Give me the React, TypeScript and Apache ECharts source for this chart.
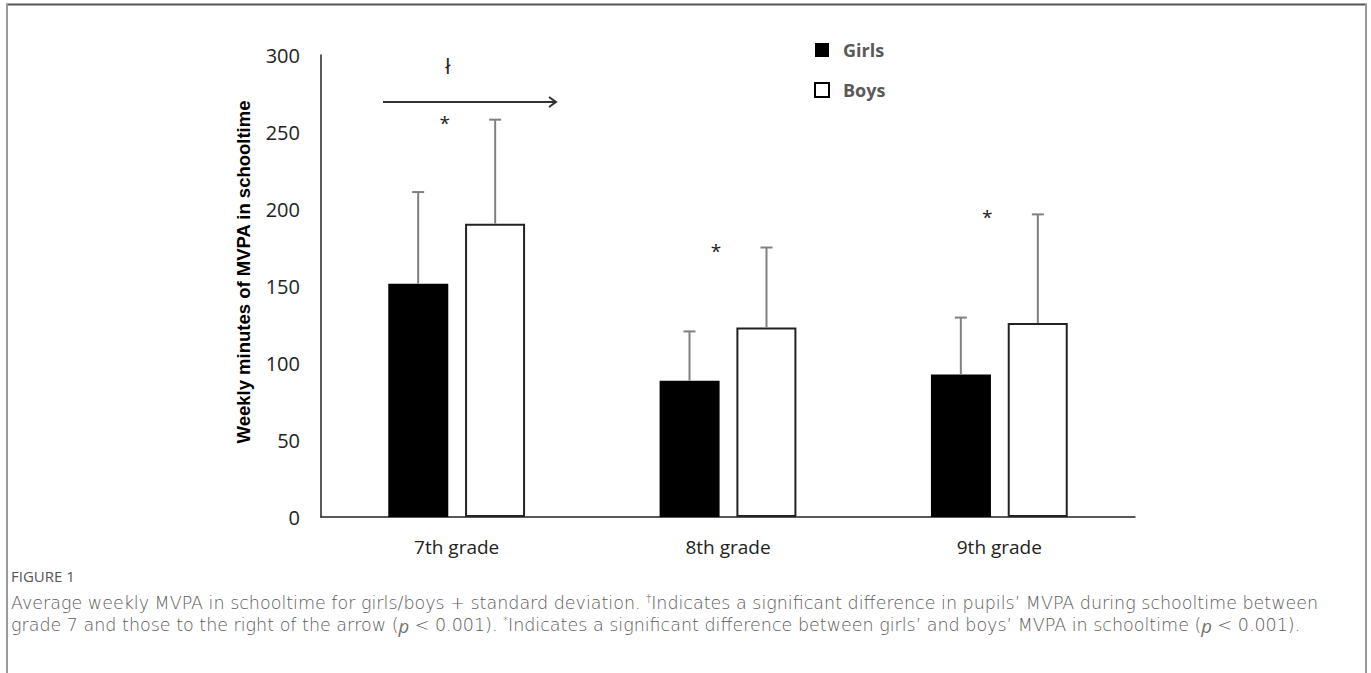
import React, { useEffect, useRef } from "react";
import * as echarts from "echarts";

const categories = ["7th grade", "8th grade", "9th grade"];
const girlsMean = [151.5, 88.5, 92.5];
const girlsSD = [59.5, 32, 37];
const boysMean = [190.5, 123, 126];
const boysSD = [67.5, 52, 70.5];
const yMin = 0;
const yMax = 300;
const yStep = 50;
const seriesNames = ["Girls", "Boys"];
const yTitle = "Weekly minutes of MVPA in schooltime";
const figureLabel = "FIGURE 1";

const FONT = "'Open Sans', 'Noto Sans', sans-serif";
const CAP_FONT = "'DejaVu Sans', 'Open Sans', sans-serif";
const BAR_W = 60;
const BAR_OFFSET = 38.5;

function errorSeries(name: string, means: number[], sds: number[], dx: number) {
  return {
    type: "custom",
    name: name + " SD",
    z: 5,
    silent: true,
    data: means.map((m, i) => [i, m, sds[i]]),
    renderItem: (params: any, api: any) => {
      const cat = api.value(0);
      const mean = api.value(1);
      const sd = api.value(2);
      const base = api.coord([cat, mean]);
      const top = api.coord([cat, mean + sd]);
      const x = base[0] + dx;
      const st = { stroke: "#808080", lineWidth: 2 };
      return {
        type: "group",
        children: [
          { type: "line", shape: { x1: x, y1: base[1], x2: x, y2: top[1] }, style: st },
          { type: "line", shape: { x1: x - 6, y1: top[1], x2: x + 6, y2: top[1] }, style: st },
        ],
      };
    },
  };
}

function starSeries() {
  return {
    type: "custom",
    name: "stars",
    z: 6,
    silent: true,
    data: boysMean.map((m, i) => [i, m + boysSD[i]]),
    renderItem: (params: any, api: any) => {
      const p = api.coord([api.value(0), api.value(1)]);
      return {
        type: "text",
        x: p[0] - 12,
        y: p[1] + 3,
        style: {
          text: "*",
          fontSize: 19,
          fontFamily: FONT,
          fill: "#222",
          align: "center",
          verticalAlign: "middle",
        },
      };
    },
  };
}

export default function App() {
  const ref = useRef<HTMLDivElement>(null);
  useEffect(() => {
    if (!ref.current) return;
    const chart = echarts.init(ref.current, null, { renderer: "svg" });
    const CAP = 17.5;
    const CAP_COLOR = "#5a5a5a";
    const captionStyle = {
      fontSize: CAP,
      lineHeight: 20,
      fontFamily: CAP_FONT,
      fontWeight: 300 as any,
      fill: CAP_COLOR,
    };
    const rich = {
      sup: { fontSize: 10, lineHeight: 20, fontFamily: CAP_FONT, fontWeight: 300, fill: CAP_COLOR, padding: [0, 0, 9, 0] },
      i: { fontSize: CAP + 1, lineHeight: 20, fontFamily: FONT, fontWeight: "normal", fontStyle: "italic", fill: "#707070" },
    };
    chart.setOption({
      animation: false,
      backgroundColor: "#fff",
      grid: { left: 321, right: 236, top: 55, bottom: 156, containLabel: false },
      legend: {
        left: 814,
        top: 41,
        padding: 0,
        orient: "vertical",
        itemWidth: 14,
        itemHeight: 14,
        itemGap: 22,
        icon: "rect",
        data: [
          { name: seriesNames[0], itemStyle: { color: "#000", borderColor: "#000", borderWidth: 0 } },
          { name: seriesNames[1], itemStyle: { color: "#fff", borderColor: "#000", borderWidth: 2 } },
        ],
        textStyle: { fontSize: 18, fontWeight: "bold", color: "#595959", fontFamily: FONT, lineHeight: 14, padding: [0, 0, 0, 9] },
      },
      xAxis: {
        type: "category",
        data: categories,
        axisLine: { lineStyle: { color: "#222", width: 1.5 } },
        axisTick: { show: false },
        axisLabel: { fontSize: 19, color: "#222", fontFamily: FONT, margin: 20 },
      },
      yAxis: {
        type: "value",
        min: yMin,
        max: yMax,
        interval: yStep,
        splitLine: { show: false },
        axisLine: { show: true, lineStyle: { color: "#222", width: 1.5 } },
        axisTick: { show: false },
        axisLabel: { fontSize: 20, color: "#222", fontFamily: FONT, margin: 21 },
      },
      series: [
        {
          type: "bar",
          name: seriesNames[0],
          data: girlsMean,
          barWidth: BAR_W,
          barGap: "28%",
          itemStyle: { color: "#000" },
        },
        {
          type: "bar",
          name: seriesNames[1],
          data: boysMean,
          barWidth: BAR_W,
          barGap: "28%",
          itemStyle: { color: "#fff", borderColor: "#222", borderWidth: 2 },
        },
        errorSeries("Girls", girlsMean, girlsSD, -BAR_OFFSET),
        errorSeries("Boys", boysMean, boysSD, BAR_OFFSET),
        starSeries(),
      ],
      graphic: [
        { type: "line", shape: { x1: 6, y1: 4.5, x2: 1367, y2: 4.5 }, style: { stroke: "#555", lineWidth: 2 } },
        { type: "line", shape: { x1: 7, y1: 4, x2: 7, y2: 673 }, style: { stroke: "#999", lineWidth: 2 } },
        { type: "line", shape: { x1: 1366, y1: 4, x2: 1366, y2: 673 }, style: { stroke: "#999", lineWidth: 2 } },
        {
          type: "text",
          x: 243,
          y: 272,
          rotation: Math.PI / 2,
          style: {
            text: yTitle,
            fontSize: 18.5,
            fontWeight: "bold",
            fontFamily: "'Liberation Sans', Arial, sans-serif",
            fill: "#000",
            align: "center",
            verticalAlign: "middle",
          },
        },
        {
          type: "line",
          shape: { x1: 383, y1: 102, x2: 556, y2: 102 },
          style: { stroke: "#333", lineWidth: 2 },
        },
        {
          type: "polyline",
          shape: { points: [[549, 97], [556, 102], [549, 107]] },
          style: { stroke: "#333", lineWidth: 2, fill: null },
        },
        {
          type: "text",
          x: 448,
          y: 66,
          style: { text: "ł", fontSize: 21, fontFamily: FONT, fill: "#222", align: "center", verticalAlign: "middle" },
        },
        {
          type: "text",
          x: 11,
          y: 576,
          style: { text: figureLabel, fontSize: 15, lineHeight: 16, fontFamily: FONT, fill: "#555", verticalAlign: "middle" },
        },
        {
          type: "text",
          x: 11,
          y: 603,
          style: {
            ...captionStyle,
            verticalAlign: "middle",
            text:
              "Average weekly MVPA in schooltime for girls/boys + standard deviation. {sup|†}Indicates a significant difference in pupils’ MVPA during schooltime between",
            rich,
          },
        },
        {
          type: "text",
          x: 11,
          y: 625,
          style: {
            ...captionStyle,
            verticalAlign: "middle",
            text:
              "grade 7 and those to the right of the arrow ({i|p} < 0.001). {sup|*}Indicates a significant difference between girls’ and boys’ MVPA in schooltime ({i|p} < 0.001).",
            rich,
          },
        },
      ],
    });
    return () => chart.dispose();
  }, []);
  return (
    <div
      ref={ref}
      style={{ position: "fixed", left: 0, top: 0, width: 1371, height: 673, background: "#fff" }}
    />
  );
}
